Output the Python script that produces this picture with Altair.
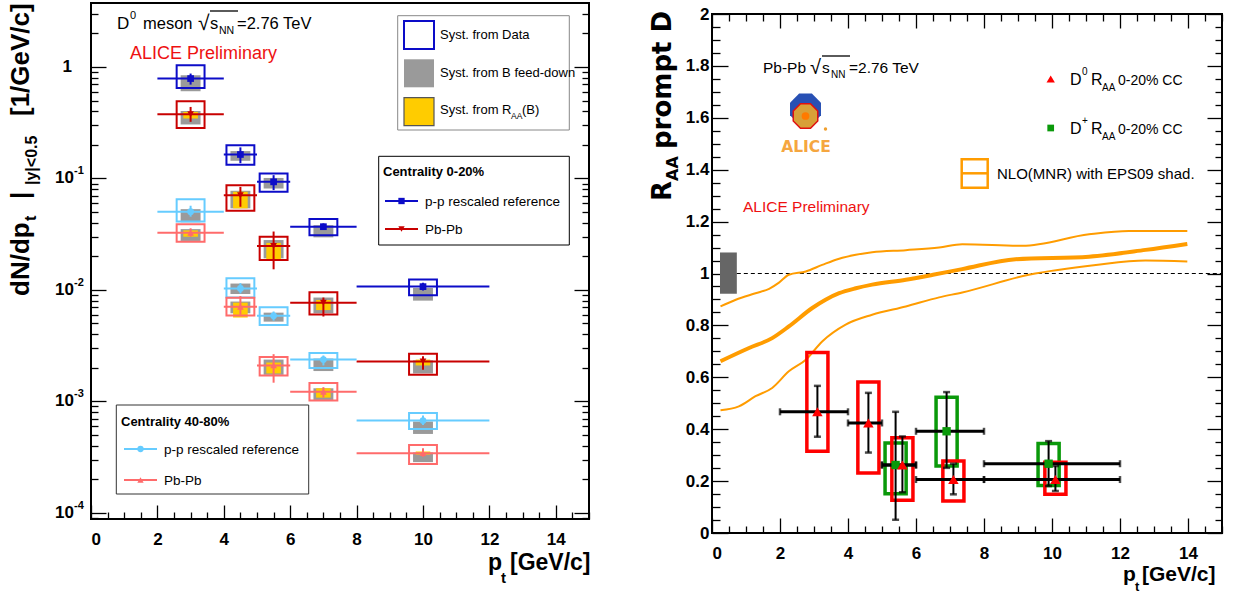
import altair as alt
import pandas as pd

# ===================== DATA =====================
# pt binning of the D-meson measurements [GeV/c]
pt_center = [3.0, 4.5, 5.5, 7.0, 10.0]
pt_low = [2.0, 4.0, 5.0, 6.0, 8.0]
pt_high = [4.0, 5.0, 6.0, 8.0, 12.0]

# ---- left panel: D0 dN/dpt |y|<0.5 [1/GeV/c] ----
# Centrality 0-20%, p-p rescaled reference
pp020_val = [0.787, 0.164, 0.0932, 0.0369, 0.0107]
pp020_stat_lo = [0.695, 0.137, 0.0786, 0.0345, 0.0099]
pp020_stat_hi = [0.873, 0.190, 0.107, 0.0395, 0.0116]
pp020_sys_lo = [0.649, 0.133, 0.0758, 0.0310, 0.00894]
pp020_sys_hi = [1.036, 0.199, 0.111, 0.0433, 0.0124]
pp020_fd_lo = [0.606, 0.144, 0.0812, 0.0296, 0.00801]
pp020_fd_hi = [0.843, 0.176, 0.101, 0.0381, 0.0104]
# Centrality 0-20%, Pb-Pb
pb020_val = [0.377, 0.0707, 0.0248, 0.00768, 0.00228]
pb020_stat_lo = [0.322, 0.0557, 0.0153, 0.00577, 0.00192]
pb020_stat_hi = [0.438, 0.0840, 0.0334, 0.00854, 0.00254]
pb020_sys_lo = [0.284, 0.0514, 0.0185, 0.00602, 0.00173]
pb020_sys_hi = [0.493, 0.0870, 0.0300, 0.00952, 0.00268]
pb020_fd_lo = [0.305, 0.0539, 0.0192, 0.00617, 0.00178]
pb020_fd_hi = [0.403, 0.0775, 0.0280, 0.00854, 0.00233]
pb020_rb_lo = [0.345, 0.0539, 0.0188, 0.00659, 0.00210]
pb020_rb_hi = [0.395, 0.0759, 0.0264, 0.00812, 0.00237]
# Centrality 40-80%, p-p rescaled reference
pp4080_val = [0.0503, 0.0103, 0.00585, 0.00237, 0.000672]
pp4080_stat_lo = [0.0454, 0.0093, 0.0053, 0.00210, 0.000613]
pp4080_stat_hi = [0.0569, 0.0115, 0.0064, 0.00258, 0.000745]
pp4080_sys_lo = [0.0410, 0.00854, 0.00485, 0.00199, 0.000565]
pp4080_sys_hi = [0.0649, 0.0127, 0.00700, 0.00272, 0.000788]
pp4080_fd_lo = [0.0404, 0.00919, 0.00519, 0.00187, 0.000510]
pp4080_fd_hi = [0.0530, 0.0114, 0.00625, 0.00242, 0.000659]
# Centrality 40-80%, Pb-Pb
pb4080_val = [0.0325, 0.00706, 0.00210, 0.00122, 0.000343]
pb4080_stat_lo = [0.0300, 0.0060, 0.00147, 0.00108, 0.000318]
pb4080_stat_hi = [0.0357, 0.0088, 0.00265, 0.00134, 0.000380]
pb4080_sys_lo = [0.0270, 0.00590, 0.00171, 0.00102, 0.000274]
pb4080_sys_hi = [0.0388, 0.00852, 0.00250, 0.00146, 0.000405]
pb4080_fd_lo = [0.0275, 0.00617, 0.00173, 0.00103, 0.000285]
pb4080_fd_hi = [0.0351, 0.00786, 0.00237, 0.00131, 0.000348]
pb4080_rb_lo = [0.0300, 0.00565, 0.00178, 0.00108, 0.000333]
pb4080_rb_hi = [0.0342, 0.00768, 0.00223, 0.00131, 0.000355]

left_series = ["pp020", "pb020", "pp4080", "pb4080"]
left_colors = ["#0c0cc8", "#c80000", "#66ccff", "#ff6b6b"]
left_shapes = ["square", "triangle-down", "circle", "triangle-up"]

# left axis tick labels (decades)
ly_label_vals = [1e-4, 1e-3, 1e-2, 1e-1]
ly_label_exp = ["-4", "-3", "-2", "-1"]

# ---- right panel: R_AA prompt D ----
d0_x = [3.1, 4.6, 5.6, 7.1, 10.1]
d0_xlo = [2.0, 4.0, 5.0, 6.0, 8.0]
d0_xhi = [4.0, 5.0, 6.0, 8.0, 12.0]
d0_y = [0.467, 0.424, 0.262, 0.206, 0.206]
d0_err_lo = [0.371, 0.310, 0.157, 0.149, 0.162]
d0_err_hi = [0.567, 0.540, 0.372, 0.267, 0.258]
d0_sys_lo = [0.315, 0.231, 0.126, 0.123, 0.149]
d0_sys_hi = [0.696, 0.582, 0.367, 0.277, 0.273]

dp_x = [5.4, 6.9, 9.9]
dp_xlo = [5.0, 6.0, 8.0]
dp_xhi = [6.0, 8.0, 12.0]
dp_y = [0.262, 0.392, 0.267]
dp_err_lo = [0.051, 0.251, 0.181]
dp_err_hi = [0.467, 0.543, 0.354]
dp_sys_lo = [0.151, 0.258, 0.183]
dp_sys_hi = [0.347, 0.523, 0.345]

# NLO(MNR) with EPS09 shadowing band
nlo_up_x = [0.25, 0.70, 1.28, 1.68, 1.97, 2.26, 2.76, 3.24, 3.74, 4.23, 4.71, 5.70, 6.68, 7.36, 9.13, 11.09, 12.26, 13.98]
nlo_up_y = [0.873, 0.899, 0.924, 0.941, 0.965, 0.995, 1.008, 1.033, 1.057, 1.072, 1.082, 1.090, 1.100, 1.113, 1.107, 1.151, 1.164, 1.164]
nlo_c_x = [0.25, 1.09, 1.77, 2.26, 2.95, 3.34, 3.74, 4.23, 4.71, 5.70, 6.50, 7.36, 8.93, 11.09, 12.75, 13.98]
nlo_c_y = [0.662, 0.713, 0.751, 0.796, 0.867, 0.899, 0.924, 0.943, 0.957, 0.976, 0.995, 1.017, 1.055, 1.065, 1.091, 1.114]
nlo_lo_x = [0.25, 0.79, 1.28, 1.77, 2.26, 2.76, 3.24, 3.93, 4.71, 5.70, 6.68, 7.36, 9.32, 11.29, 12.75, 13.98]
nlo_lo_y = [0.473, 0.488, 0.527, 0.559, 0.623, 0.668, 0.738, 0.803, 0.841, 0.873, 0.908, 0.927, 0.995, 1.033, 1.050, 1.046]

# normalisation uncertainty box and unity line
norm_x = [0.235, 0.73]
norm_y = [0.922, 1.081]
unity_x = [0.73, 15.0]

# ===================== TABLES =====================
left_arrays = {
    "pp020": (pp020_val, pp020_stat_lo, pp020_stat_hi, pp020_sys_lo, pp020_sys_hi, pp020_fd_lo, pp020_fd_hi, None, None),
    "pb020": (pb020_val, pb020_stat_lo, pb020_stat_hi, pb020_sys_lo, pb020_sys_hi, pb020_fd_lo, pb020_fd_hi, pb020_rb_lo, pb020_rb_hi),
    "pp4080": (pp4080_val, pp4080_stat_lo, pp4080_stat_hi, pp4080_sys_lo, pp4080_sys_hi, pp4080_fd_lo, pp4080_fd_hi, None, None),
    "pb4080": (pb4080_val, pb4080_stat_lo, pb4080_stat_hi, pb4080_sys_lo, pb4080_sys_hi, pb4080_fd_lo, pb4080_fd_hi, pb4080_rb_lo, pb4080_rb_hi),
}
rows = []
for name in left_series:
    v, slo, shi, blo, bhi, flo, fhi, rlo, rhi = left_arrays[name]
    for i in range(len(pt_center)):
        rows.append(dict(series=name, x=pt_center[i], xlo=pt_low[i], xhi=pt_high[i], y=v[i],
                         slo=slo[i], shi=shi[i], blo=blo[i], bhi=bhi[i], flo=flo[i], fhi=fhi[i],
                         rlo=rlo[i] if rlo else None, rhi=rhi[i] if rhi else None))
left_df = pd.DataFrame(rows)

rrows = []
for i in range(len(dp_x)):
    rrows.append(dict(series="Dplus", x=dp_x[i], xlo=dp_xlo[i], xhi=dp_xhi[i], y=dp_y[i],
                      elo=dp_err_lo[i], ehi=dp_err_hi[i], blo=dp_sys_lo[i], bhi=dp_sys_hi[i]))
for i in range(len(d0_x)):
    rrows.append(dict(series="D0", x=d0_x[i], xlo=d0_xlo[i], xhi=d0_xhi[i], y=d0_y[i],
                      elo=d0_err_lo[i], ehi=d0_err_hi[i], blo=d0_sys_lo[i], bhi=d0_sys_hi[i]))
right_df = pd.DataFrame(rrows)
nlo_up = pd.DataFrame({"x": nlo_up_x, "y": nlo_up_y})
nlo_c = pd.DataFrame({"x": nlo_c_x, "y": nlo_c_y})
nlo_lo = pd.DataFrame({"x": nlo_lo_x, "y": nlo_lo_y})
norm_df = pd.DataFrame({"x1": [norm_x[0]], "x2": [norm_x[1]], "y1": [norm_y[0]], "y2": [norm_y[1]]})
unity_df = pd.DataFrame({"x1": [unity_x[0]], "x2": [unity_x[1]], "y": [1.0]})
ylab_df = pd.DataFrame({"v": ly_label_vals, "e": ly_label_exp})

# ===================== LAYOUT / STYLE =====================
W1, H1 = 498, 516
W2, H2 = 510, 519
OL = (94, 3)
OR = (713, 13)
LIB = "Liberation Sans"
DJV = "DejaVu Sans"

XL = alt.Scale(domain=[0, 15], nice=False, zero=False)
YL = alt.Scale(type="log", domain=[8.8e-5, 3.75], nice=False)
XR = alt.Scale(domain=[0, 15], nice=False, zero=False)
YR = alt.Scale(domain=[0, 2], nice=False, zero=False)

ONE = pd.DataFrame({"v": [1.0]})


def text(o, s, x, y, size, color="black", bold=False, align="left", baseline="alphabetic", angle=0, font=LIB):
    kw = dict(text=s, fontSize=size, color=color, font=font, align=align, baseline=baseline,
              fontWeight="bold" if bold else "normal")
    if angle:
        kw["angle"] = angle
    return alt.Chart(ONE).mark_text(**kw).encode(x=alt.value(x - o[0]), y=alt.value(y - o[1]))


def prect(o, x1, y1, x2, y2, fill=None, stroke=None, sw=1.0):
    kw = {}
    if fill:
        kw["fill"] = fill
    else:
        kw["fillOpacity"] = 0
    if stroke:
        kw["stroke"] = stroke
        kw["strokeWidth"] = sw
    return alt.Chart(ONE).mark_rect(**kw).encode(
        x=alt.value(x1 - o[0]), x2=alt.value(x2 - o[0]), y=alt.value(y1 - o[1]), y2=alt.value(y2 - o[1]))


def pline(o, x1, y1, x2, y2, color="black", sw=1.0):
    return alt.Chart(ONE).mark_rule(color=color, strokeWidth=sw).encode(
        x=alt.value(x1 - o[0]), x2=alt.value(x2 - o[0]), y=alt.value(y1 - o[1]), y2=alt.value(y2 - o[1]))


def pmark(o, x, y, shape, color, size, **extra):
    return alt.Chart(ONE).mark_point(shape=shape, filled=True, color=color, size=size, opacity=1, **extra).encode(
        x=alt.value(x - o[0]), y=alt.value(y - o[1]))


def axis_layer(xs, ys, xaxis=None, yaxis=None):
    return alt.Chart(ONE).mark_point(opacity=0).encode(
        x=alt.X("v:Q", scale=xs, axis=xaxis), y=alt.Y("v:Q", scale=ys, axis=yaxis))


def tick_axis(orient, offset, values, size):
    return alt.Axis(orient=orient, offset=offset, values=values, labels=False, domain=False, grid=False,
                    ticks=True, title=None, tickColor="black", tickWidth=1.3, tickSize=size)


x_major_vals = [0, 2, 4, 6, 8, 10, 12, 14]
x_minor_vals = [i * 0.5 for i in range(31) if (i * 0.5) % 2 != 0]
ly_major_vals = [1e-4, 1e-3, 1e-2, 1e-1, 1.0]
ly_minor_vals = [m * 10.0 ** k for k in range(-5, 1) for m in range(2, 10) if 8.8e-5 <= m * 10.0 ** k <= 3.75]
ry_major_vals = [round(i * 0.2, 1) for i in range(11)]
ry_minor_vals = [round(i * 0.05, 2) for i in range(41) if i % 4 != 0]

lab_font = dict(labelFont=LIB, labelFontWeight="bold", labelFontSize=17, labelColor="black")

# ===================== LEFT PANEL =====================
cL = alt.Color("series:N", scale=alt.Scale(domain=left_series, range=left_colors), legend=None)
sL = alt.Stroke("series:N", scale=alt.Scale(domain=left_series, range=left_colors), legend=None)
shL = alt.Shape("series:N", scale=alt.Scale(domain=left_series, range=left_shapes), legend=None)

base_l = alt.Chart(left_df).transform_calculate(
    bx1="datum.x - 0.42", bx2="datum.x + 0.42",
    gx1="datum.x - 0.30", gx2="datum.x + 0.30",
    rx1="datum.x - 0.22", rx2="datum.x + 0.22")


def XLq(f):
    return alt.X(f, type="quantitative", scale=XL, axis=None)


def YLq(f):
    return alt.Y(f, type="quantitative", scale=YL, axis=None)


l_fd = base_l.mark_rect(color="#9a9a9a").encode(x=XLq("gx1"), x2="gx2", y=YLq("flo"), y2="fhi")
l_rb = base_l.transform_filter("isValid(datum.rlo)").mark_rect(color="#ffcc00").encode(
    x=XLq("rx1"), x2="rx2", y=YLq("rlo"), y2="rhi")
l_sys = base_l.mark_rect(fillOpacity=0, strokeWidth=2).encode(
    x=XLq("bx1"), x2="bx2", y=YLq("blo"), y2="bhi", stroke=sL)
l_hbar = base_l.mark_rule(strokeWidth=2).encode(x=XLq("xlo"), x2="xhi", y=YLq("y"), color=cL)
l_vbar = base_l.mark_rule(strokeWidth=2).encode(x=XLq("x"), y=YLq("slo"), y2="shi", color=cL)
l_pts = base_l.mark_point(filled=True, opacity=1, size=45).encode(x=XLq("x"), y=YLq("y"), color=cL, shape=shL)

l_axes = [
    axis_layer(XL, YL, yaxis=tick_axis("right", -W1, ly_major_vals, 15)),
    axis_layer(XL, YL, yaxis=tick_axis("right", -W1, ly_minor_vals, 7)),
    axis_layer(XL, YL, yaxis=tick_axis("left", -W1, ly_major_vals, 15)),
    axis_layer(XL, YL, yaxis=tick_axis("left", -W1, ly_minor_vals, 7)),
    axis_layer(XL, YL, xaxis=tick_axis("top", -H1, x_major_vals, 14)),
    axis_layer(XL, YL, xaxis=tick_axis("top", -H1, x_minor_vals, 7)),
    axis_layer(XL, YL, xaxis=alt.Axis(orient="bottom", values=x_major_vals, ticks=False, domain=False,
                                        grid=False, title=None, labelPadding=12, format="d", **lab_font)),
]

# decade labels 10^k drawn through the log scale
l_ylab10 = alt.Chart(ylab_df).mark_text(text="10", font=LIB, fontWeight="bold", fontSize=17, align="right",
                                         baseline="middle", color="black").encode(
    x=alt.value(-17), y=alt.Y("v:Q", scale=YL, axis=None))
l_ylabexp = alt.Chart(ylab_df).mark_text(font=LIB, fontWeight="bold", fontSize=11, align="left",
                                          baseline="middle", color="black", dy=-7).encode(
    x=alt.value(-17), y=alt.Y("v:Q", scale=YL, axis=None), text="e:N")
l_ylab1 = alt.Chart(pd.DataFrame({"v": [1.0]})).mark_text(text="1", font=LIB, fontWeight="bold", fontSize=17,
                                                          align="right", baseline="middle", color="black").encode(
    x=alt.value(-19), y=alt.Y("v:Q", scale=YL, axis=None))

o = OL
l_text = [
    # y-axis title
    text(o, "dN/dp", 32, 296, 26, bold=True, angle=270),
    text(o, "t", 39, 221, 16, bold=True, angle=270),
    text(o, "|", 32, 199, 26, bold=True, angle=270),
    text(o, "|y|<0.5", 40, 185, 16, bold=True, angle=270),
    text(o, "[1/GeV/c]", 32, 116, 26, bold=True, angle=270),
    # x-axis title
    text(o, "p", 491, 570, 23, bold=True),
    text(o, "t", 504, 583, 15, bold=True),
    text(o, "[GeV/c]", 513, 570, 23, bold=True),
    # header
    text(o, "D", 120, 28.5, 17),
    text(o, "0", 133, 19, 11),
    text(o, "meson", 146, 28.5, 16.5),
    text(o, "\u221a", 201, 30, 21),
    pline(o, 213, 11, 241, 11, sw=1.3),
    text(o, "s", 213, 28.5, 16.5),
    text(o, "NN", 222, 33.5, 10.5),
    text(o, "=2.76 TeV", 240, 28.5, 16.5),
    text(o, "ALICE Preliminary", 133, 59, 18, color="#ee1111"),
    # legend 1 (systematics)
    prect(o, 400.7, 15.7, 572.3, 130, fill="white", stroke="#888888", sw=1),
    prect(o, 407, 21, 437, 49, stroke="#0c0cc8", sw=2),
    prect(o, 407, 59.3, 437, 87.3, fill="#9a9a9a"),
    prect(o, 407, 97.7, 437, 125.7, fill="#ffcc00", stroke="#555555", sw=1.2),
    text(o, "Syst. from Data", 443, 39, 13),
    text(o, "Syst. from B feed-down", 443, 77, 13),
    text(o, "Syst. from R", 443, 114, 13),
    text(o, "AA", 514, 119, 8.5),
    text(o, "(B)", 525, 114, 13),
    # legend 2 (0-20%)
    prect(o, 381.7, 156.3, 572.3, 245, fill="white", stroke="black", sw=1),
    text(o, "Centrality 0-20%", 386, 176, 13, bold=True),
    pline(o, 388, 201, 421, 201, color="#0c0cc8", sw=2),
    pmark(o, 404.5, 201, "square", "#0c0cc8", 40),
    text(o, "p-p rescaled reference", 428, 206, 13.5),
    pline(o, 388, 229, 421, 229, color="#c80000", sw=2),
    pmark(o, 404.5, 229, "triangle-down", "#c80000", 40),
    text(o, "Pb-Pb", 428, 234, 13.5),
    # legend 3 (40-80%)
    prect(o, 119.3, 405, 311.7, 494, fill="white", stroke="#333333", sw=1),
    text(o, "Centrality 40-80%", 124, 426, 13, bold=True),
    pline(o, 127, 449, 160, 449, color="#66ccff", sw=2),
    pmark(o, 143.5, 449, "circle", "#66ccff", 40),
    text(o, "p-p rescaled reference", 167, 454, 13.5),
    pline(o, 127, 480, 160, 480, color="#ff6b6b", sw=2),
    pmark(o, 143.5, 480, "triangle-up", "#ff6b6b", 40),
    text(o, "Pb-Pb", 167, 485, 13.5),
]

left = alt.layer(*l_axes, l_fd, l_rb, l_sys, l_hbar, l_vbar, l_pts, l_ylab10, l_ylabexp, l_ylab1, *l_text).properties(
    width=W1, height=H1).resolve_axis(x="independent", y="independent")

# ===================== RIGHT PANEL =====================
r_series = ["Dplus", "D0"]
r_colors = ["#0a990a", "#ff0000"]
sR = alt.Stroke("series:N", scale=alt.Scale(domain=r_series, range=r_colors), legend=None)


def XRq(f):
    return alt.X(f, type="quantitative", scale=XR, axis=None)


def YRq(f):
    return alt.Y(f, type="quantitative", scale=YR, axis=None)


ORANGE = "#ff9c00"
r_norm = alt.Chart(norm_df).mark_rect(color="#666666").encode(x=XRq("x1"), x2="x2", y=YRq("y1"), y2="y2")
r_unity = alt.Chart(unity_df).mark_rule(color="black", strokeWidth=1, strokeDash=[4, 3]).encode(
    x=XRq("x1"), x2="x2", y=YRq("y"))
r_up = alt.Chart(nlo_up).mark_line(color=ORANGE, strokeWidth=2, interpolate="monotone").encode(x=XRq("x"), y=YRq("y"))
r_c = alt.Chart(nlo_c).mark_line(color=ORANGE, strokeWidth=4, interpolate="monotone").encode(x=XRq("x"), y=YRq("y"))
r_lo = alt.Chart(nlo_lo).mark_line(color=ORANGE, strokeWidth=2, interpolate="monotone").encode(x=XRq("x"), y=YRq("y"))

base_r = alt.Chart(right_df).transform_calculate(bx1="datum.x - 0.31", bx2="datum.x + 0.31")
r_sys = base_r.mark_rect(fillOpacity=0, strokeWidth=3.5).encode(x=XRq("bx1"), x2="bx2", y=YRq("blo"), y2="bhi", stroke=sR)
r_hbar = base_r.mark_rule(color="black", strokeWidth=3).encode(x=XRq("xlo"), x2="xhi", y=YRq("y"))
r_vbar = base_r.mark_rule(color="black", strokeWidth=2).encode(x=XRq("x"), y=YRq("elo"), y2="ehi")
r_hcap = base_r.transform_fold(["xlo", "xhi"], as_=["k", "xv"]).mark_tick(
    orient="vertical", size=7, thickness=2.5, color="black").encode(x=XRq("xv"), y=YRq("y"))
r_vcap = base_r.transform_fold(["elo", "ehi"], as_=["k", "yv"]).mark_tick(
    orient="horizontal", size=7, thickness=2.5, color="black").encode(x=XRq("x"), y=YRq("yv"))
r_dp = base_r.transform_filter("datum.series == 'Dplus'").mark_point(
    shape="square", filled=True, opacity=1, size=70, color="#0a990a").encode(x=XRq("x"), y=YRq("y"))
r_d0 = base_r.transform_filter("datum.series == 'D0'").mark_point(
    shape="triangle-up", filled=True, opacity=1, size=110, color="#ff0000").encode(x=XRq("x"), y=YRq("y"))

r_axes = [
    axis_layer(XR, YR, yaxis=tick_axis("right", -W2, ry_major_vals, 16)),
    axis_layer(XR, YR, yaxis=tick_axis("right", -W2, ry_minor_vals, 8)),
    axis_layer(XR, YR, yaxis=tick_axis("left", -W2, ry_major_vals, 15)),
    axis_layer(XR, YR, yaxis=tick_axis("left", -W2, ry_minor_vals, 7)),
    axis_layer(XR, YR, xaxis=tick_axis("top", -H2, x_major_vals, 15)),
    axis_layer(XR, YR, xaxis=tick_axis("top", -H2, x_minor_vals, 7)),
    axis_layer(XR, YR, xaxis=tick_axis("bottom", -H2, x_major_vals, 14)),
    axis_layer(XR, YR, xaxis=tick_axis("bottom", -H2, x_minor_vals, 7)),
    axis_layer(XR, YR, xaxis=alt.Axis(orient="bottom", values=x_major_vals, ticks=False, domain=False,
                                        grid=False, title=None, labelPadding=12, format="d", **lab_font)),
    axis_layer(XR, YR, yaxis=alt.Axis(orient="left", values=ry_major_vals, ticks=False,
                                        domain=False, grid=False, title=None, labelPadding=3, format="~g", **lab_font)),
]

OCT = "M-0.41,-1L0.41,-1L1,-0.41L1,0.41L0.41,1L-0.41,1L-1,0.41L-1,-0.41Z"
o = OR
r_text = [
    # y-axis title
    text(o, "R", 672, 200, 26, bold=True, angle=270, font=DJV),
    text(o, "AA", 679, 180, 16, bold=True, angle=270, font=DJV),
    text(o, "prompt D", 672, 148, 26, bold=True, angle=270, font=DJV),
    # x-axis title
    text(o, "p", 1124, 580, 21, bold=True),
    text(o, "t", 1136, 590, 13, bold=True),
    text(o, "[GeV/c]", 1143, 580, 21, bold=True),
    # header
    text(o, "Pb-Pb", 764, 71.5, 15.5),
    text(o, "\u221a", 811, 73, 20),
    pline(o, 823, 55, 851, 55, sw=1.3),
    text(o, "s", 823, 71.5, 15.5),
    text(o, "NN", 832, 77, 10),
    text(o, "=2.76 TeV", 850, 71.5, 15.5),
    text(o, "ALICE Preliminary", 744, 211, 15.5, color="#ee1111"),
    # ALICE logo
    pmark(o, 806.5, 108, OCT, "#2850b4", 960),
    pmark(o, 806.5, 115, OCT, "#d8a038", 600, stroke="#e01010", strokeWidth=1.5),
    pmark(o, 806.5, 115, "circle", "#ff7a00", 60),
    pmark(o, 826.5, 128, "circle", "#f0a030", 12),
    text(o, "ALICE", 807, 151, 15.5, color="#f5a640", bold=True, align="center", font=DJV),
    # legend
    pmark(o, 1051.7, 78, "triangle-up", "#ff0000", 70),
    text(o, "D", 1071, 84, 16),
    text(o, "0", 1083, 74, 10),
    text(o, "R", 1092, 84, 16),
    text(o, "AA", 1103, 90, 10),
    text(o, "0-20% CC", 1119, 84, 14),
    pmark(o, 1051.7, 127, "square", "#0a990a", 45),
    text(o, "D", 1071, 133, 16),
    text(o, "+", 1083, 123, 10),
    text(o, "R", 1092, 133, 16),
    text(o, "AA", 1103, 139, 10),
    text(o, "0-20% CC", 1119, 133, 14),
    prect(o, 962.7, 158.3, 988.7, 186.7, stroke=ORANGE, sw=2.5),
    pline(o, 962.7, 172.3, 988.7, 172.3, color=ORANGE, sw=2.5),
    text(o, "NLO(MNR) with EPS09 shad.", 998, 178, 15),
]

right = alt.layer(*r_axes, r_norm, r_unity, r_up, r_c, r_lo, r_sys, r_hbar, r_vbar, r_hcap, r_vcap, r_dp, r_d0,
                  *r_text).properties(width=W2, height=H2).resolve_axis(x="independent", y="independent")

# thin invisible spacer that lowers the right panel's frame relative to the left one
spacer = alt.Chart(ONE).mark_rect(opacity=0).encode(
    x=alt.value(0), x2=alt.value(0), y=alt.value(0), y2=alt.value(0)).properties(
    width=W2, height=1, view=alt.ViewBackground(strokeOpacity=0))

right_col = alt.vconcat(spacer, right, spacing=0)

chart = alt.hconcat(left, right_col, spacing=56).resolve_scale(
    color="independent", stroke="independent", shape="independent").properties(
    padding={"left": 6, "top": 2, "right": 5, "bottom": 0},
    background="white",
).configure_view(stroke="black", strokeWidth=2)

chart.save("out.html", embed_options={"renderer": "svg", "actions": False})
